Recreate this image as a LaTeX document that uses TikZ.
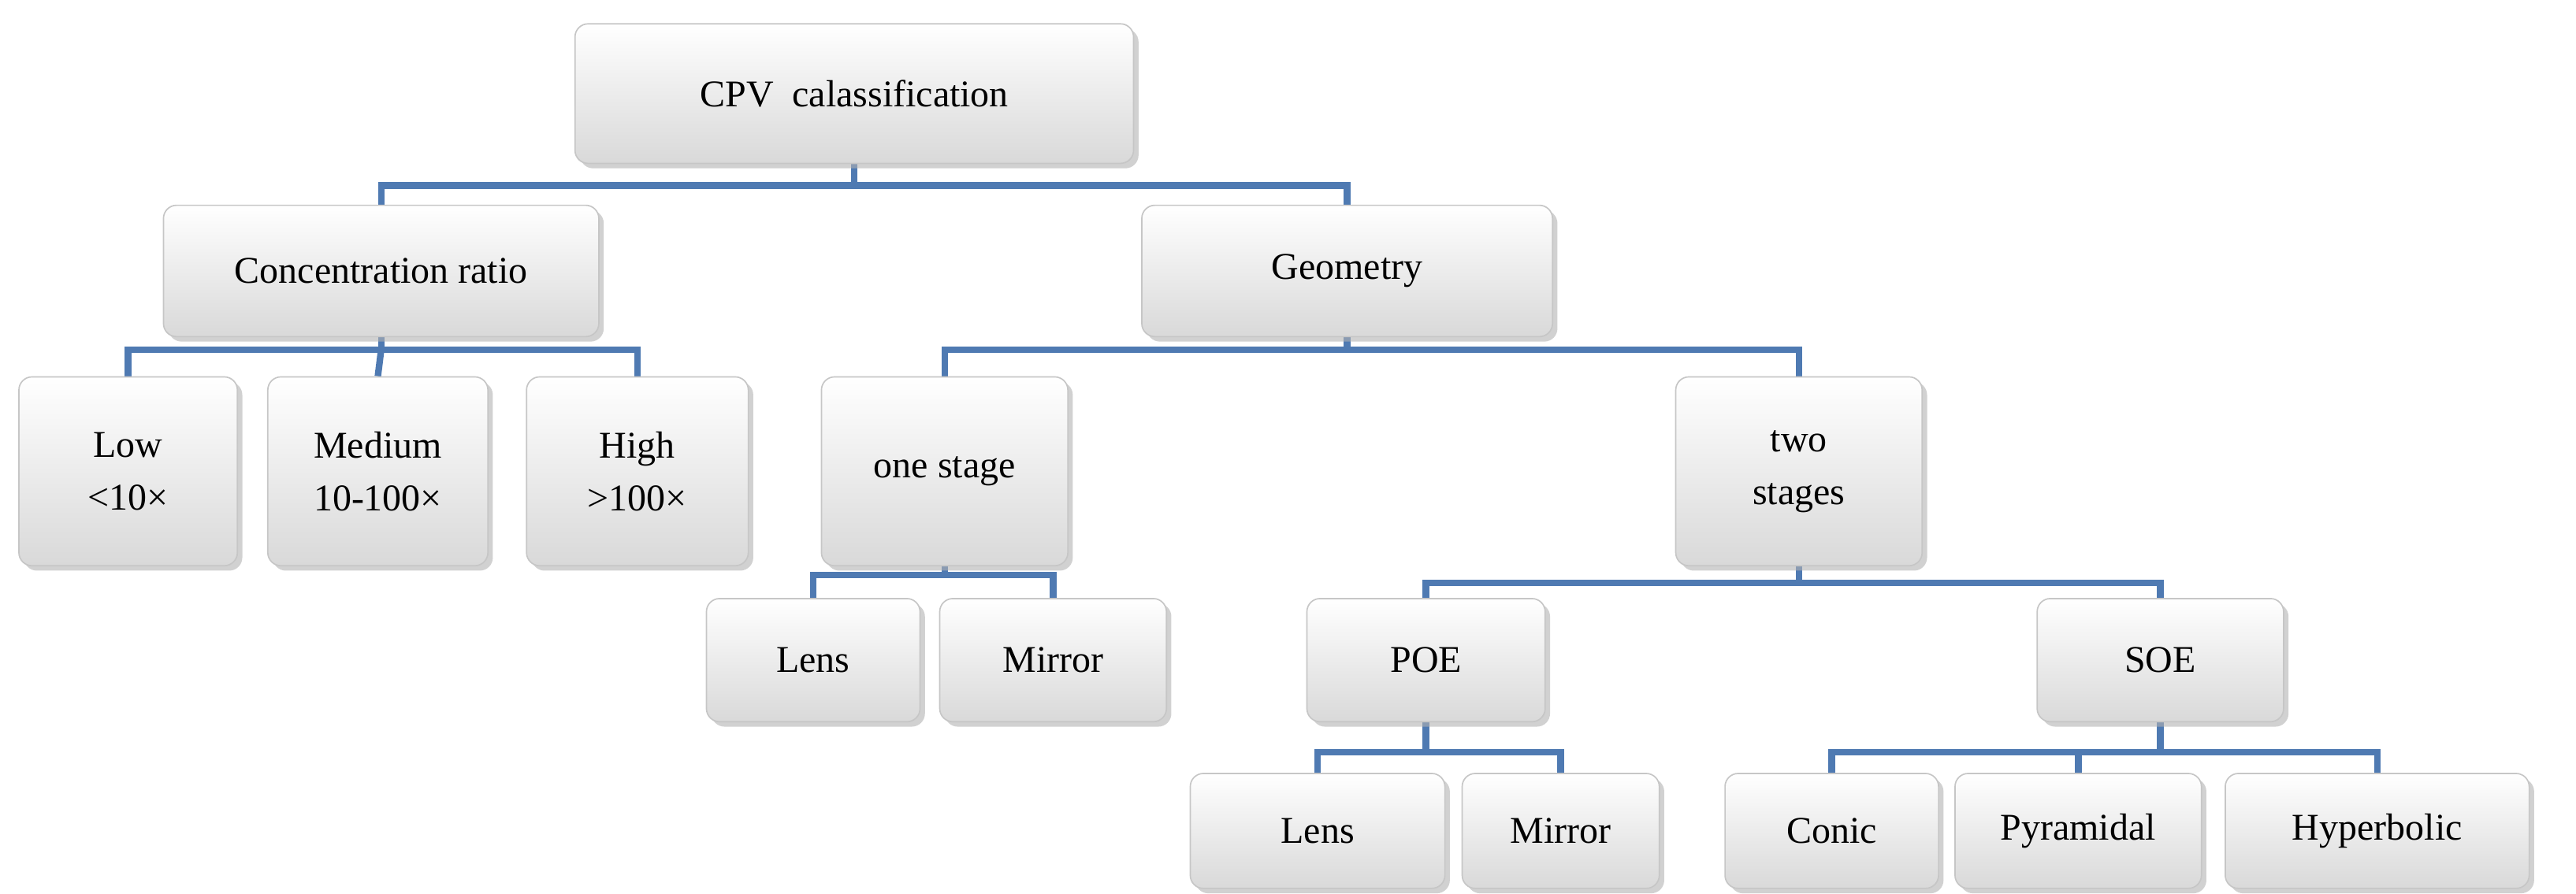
\documentclass[tikz,border=0pt]{standalone}
\usepackage{fontspec}
\setmainfont{Liberation Serif}
\usetikzlibrary{shadows,backgrounds}
\begin{document}
\begin{tikzpicture}[x=1pt,y=-1pt,
 box/.style={rounded corners=8pt,draw=gray!45,line width=0.8pt,top color=white,bottom color=gray!30,
   drop shadow={shadow xshift=3pt,shadow yshift=-3pt,fill=gray!60,opacity=0.6},
   font=\fontsize{23}{28}\selectfont,align=center,inner sep=2pt},
 bus/.style={color={rgb,255:red,79;green,122;blue,178},line width=4pt}]
\useasboundingbox (0,0) rectangle (1568,544);
\node[box,minimum width=340,minimum height=85] (cpv) at (520,57) {CPV\ \ calassification};
\node[box,minimum width=265,minimum height=80] (conc) at (232,165) {Concentration ratio};
\node[box,minimum width=250,minimum height=80] (geo) at (820,165) {Geometry};
\node[box,minimum width=133,minimum height=115] (low) at (78,287) {Low\\[4pt]<10×};
\node[box,minimum width=134,minimum height=115] (med) at (230,287) {Medium\\[4pt]10-100×};
\node[box,minimum width=135,minimum height=115] (high) at (388,287) {High\\[4pt]>100×};
\node[box,minimum width=150,minimum height=115] (one) at (575,287) {one stage};
\node[box,minimum width=150,minimum height=115] (two) at (1095,287) {two\\[4pt]stages};
\node[box,minimum width=130,minimum height=75] (lens1) at (495,402) {Lens};
\node[box,minimum width=138,minimum height=75] (mir1) at (641,402) {Mirror};
\node[box,minimum width=145,minimum height=75] (poe) at (868,402) {POE};
\node[box,minimum width=150,minimum height=75] (soe) at (1315,402) {SOE};
\node[box,minimum width=155,minimum height=70] (lens2) at (802,506) {Lens};
\node[box,minimum width=120,minimum height=70] (mir2) at (950,506) {Mirror};
\node[box,minimum width=130,minimum height=70] (conic) at (1115,506) {Conic};
\node[box,minimum width=150,minimum height=70] (pyr) at (1265,506) {Pyramidal};
\node[box,minimum width=185,minimum height=70] (hyp) at (1447,506) {Hyperbolic};
\begin{scope}[on background layer]
\coordinate (b1) at (520,113);
\draw[bus] (cpv) -- (b1) -| (conc.north); \draw[bus] (b1) -| (geo.north);
\coordinate (b2) at (232,213);
\draw[bus] (conc) -- (b2) -| (low.north); \draw[bus] (b2) -| (high.north); \draw[bus] (b2) -- (med.north);
\coordinate (b3) at (820,213);
\draw[bus] (geo) -- (b3) -| (one.north); \draw[bus] (b3) -| (two.north);
\coordinate (b4) at (575,350);
\draw[bus] (one) -- (b4) -| (lens1.north); \draw[bus] (b4) -| (mir1.north);
\coordinate (b5) at (1095,355);
\draw[bus] (two) -- (b5) -| (poe.north); \draw[bus] (b5) -| (soe.north);
\coordinate (b6) at (868,458);
\draw[bus] (poe) -- (b6) -| (lens2.north); \draw[bus] (b6) -| (mir2.north);
\coordinate (b7) at (1315,458);
\draw[bus] (soe) -- (b7) -| (conic.north); \draw[bus] (b7) -| (hyp.north); \draw[bus] (pyr.north) -- (pyr.north |- b7);
\end{scope}
\end{tikzpicture}
\end{document}
